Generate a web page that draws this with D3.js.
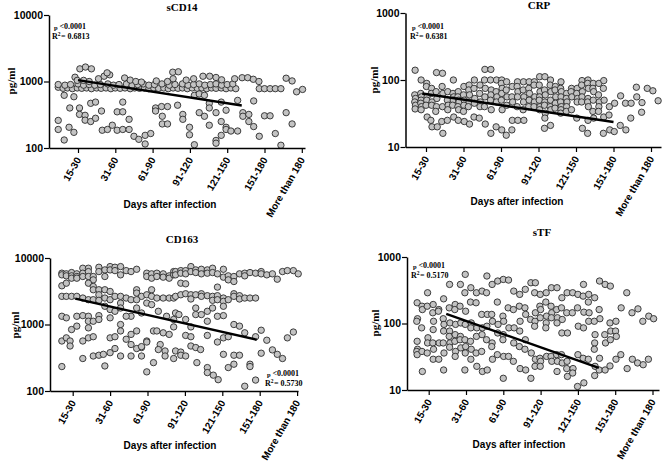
<!DOCTYPE html>
<html><head><meta charset="utf-8">
<script src="https://cdn.jsdelivr.net/npm/d3@7"></script>
<style>body{margin:0;background:#fff}svg{display:block}text{fill:#000}</style>
</head><body>
<svg id="c" width="668" height="466"></svg>
<script>
// x positions are in category units: 1 = "15-30", 2 = "31-60", ... 7 = "More than 180"
const dayCategories = ["15-30","31-60","61-90","91-120","121-150","151-180","More than 180"];
const categoryPositions = [1,2,3,4,5,6,7];

const sCD14Points = [
[0.47,820],[0.6,790],[0.72,800],[0.85,780],[0.98,800],[1.1,790],[1.23,800],[1.36,780],[1.5,800],[1.62,790],[1.75,800],[1.88,780],[2.0,800],[2.13,790],[2.26,800],[2.4,780],[2.52,800],[2.65,790],[2.78,800],[2.9,780],[3.03,800],[3.16,790],[3.3,800],[3.42,780],[3.55,800],[3.68,790],[3.8,800],[3.93,780],[4.06,800],[4.2,790],[4.32,800],[4.45,780],[4.58,800],[4.7,790],[4.84,800],[4.97,780],[5.1,800],[5.23,780],[5.86,780],[6.0,780],[6.15,780],[6.29,780],[6.44,780],
[0.47,900],[0.65,880],[0.8,900],[1.0,920],[1.15,880],[1.3,900],[1.45,880],[1.6,900],[1.8,920],[1.95,880],[2.1,900],[2.3,920],[2.45,880],[2.6,900],[2.75,920],[2.9,880],[3.05,900],[3.25,920],[3.45,880],[3.6,900],[3.8,920],[3.95,880],[4.1,900],[4.25,920],[4.4,880],[4.55,900],[4.7,920],[4.85,880],[5.0,900],[5.15,920],
[0.92,1160],[0.98,1040],[1.15,1040],[1.3,1000],[1.55,1100],[1.7,1200],[1.85,1260],[2.25,1130],[2.4,1050],[2.55,1000],[2.7,980],[3.1,1020],[3.4,1000],[3.55,1100],[3.9,1050],[4.1,1100],[4.35,1200],[4.53,1200],[4.7,1150],[4.85,1060],[5.2,1100],[5.4,1140],[5.55,1140],[5.7,1080],[5.85,1000],[6.58,1120],[6.74,1020],
[1.05,1550],[1.2,1650],[1.36,1550],[1.78,1350],[3.54,1380],[3.69,1400],
[0.63,620],[0.78,400],[0.47,260],[0.47,190],[0.63,132],[0.76,205],[0.89,172],[0.89,590],[1.34,470],[1.47,490],[1.04,400],[1.04,320],[1.19,310],[1.19,262],[1.34,250],[1.47,280],[1.63,360],
[1.65,185],[1.79,190],[1.92,220],[2.05,185],[2.2,190],[2.37,190],[2.2,490],[2.05,350],[2.2,350],[2.37,270],[2.5,150],[2.63,135],[2.8,155],[2.95,165],[2.8,115],
[3.08,400],[3.08,360],[3.24,420],[3.4,420],[3.67,440],[3.26,300],[3.26,230],[3.4,230],
[4.12,620],[4.25,650],[4.39,620],[4.52,470],[4.52,400],[4.84,490],[4.97,370],[5.28,520],[4.25,340],[4.39,300],[4.7,340],[3.81,320],[3.81,270],[3.99,205],[3.99,158],[4.52,220],[4.84,250],[4.97,205],[4.97,190],[5.1,180],[5.28,180],[4.12,112],[4.7,130],[4.7,118],[4.84,155],
[5.71,510],[5.42,340],[5.42,300],[5.58,320],[5.58,250],[5.71,210],[6.0,305],[6.15,305],[5.86,150],[6.29,165],[6.44,110],[6.58,340],[6.74,230],[6.86,700],[7.02,760]
];
const sCD14Trend = [[1.0,1050],[5.39,435]];
const sCD14Stat = ["<0.0001","0.6813"];

const crpPoints = [
[0.71,140],[0.7,60],[0.72,53],[0.7,47],[0.72,42],[0.71,37],
[0.87,100],[0.86,63],[0.88,56],[0.87,50],[0.86,45],[0.88,40],[0.87,36],
[1.02,89],[1.01,80],[1.03,56],[1.02,50],[1.0,42],[1.03,28],
[1.15,75],[1.14,63],[1.16,47],[1.15,42],[1.13,25],[1.16,20],
[1.28,129],[1.27,67],[1.29,53],[1.28,40],[1.26,34],[1.3,20],
[1.44,126],[1.43,80],[1.45,63],[1.44,40],[1.42,24],[1.45,16],
[1.58,67],[1.57,50],[1.59,42],[1.58,36],[1.57,25],
[1.73,100],[1.72,63],[1.74,56],[1.73,50],[1.71,42],[1.74,28],
[1.86,67],[1.85,56],[1.87,50],[1.88,47],[1.85,40],[1.87,36],[1.86,25],
[2.01,80],[2.0,60],[2.02,50],[2.01,42],[2.0,34],[2.02,24],
[2.15,84],[2.14,71],[2.16,60],[2.15,47],[2.13,40],[2.16,22],
[2.29,100],[2.28,75],[2.3,53],[2.29,45],[2.28,28],
[2.44,84],[2.43,63],[2.45,47],[2.44,40],[2.42,27],
[2.57,144],[2.56,100],[2.58,75],[2.57,56],[2.56,40],[2.58,22],
[2.73,144],[2.72,100],[2.74,71],[2.73,60],[2.72,50],[2.74,36],[2.73,16],
[2.88,100],[2.87,67],[2.89,56],[2.88,47],[2.87,20],
[3.02,100],[3.01,89],[3.03,75],[3.02,63],[3.01,50],[3.03,36],[3.02,18],
[3.15,94],[3.14,71],[3.16,56],[3.15,42],[3.14,15],
[3.3,80],[3.29,56],[3.31,47],[3.3,25],[3.29,18],
[3.44,94],[3.43,80],[3.45,67],[3.44,56],[3.43,40],[3.45,25],
[3.6,94],[3.59,71],[3.61,56],[3.6,47],[3.59,36],[3.61,25],
[3.75,94],[3.74,75],[3.76,63],[3.75,50],[3.74,40],
[3.89,94],[3.88,84],[3.9,56],[3.89,47],[3.88,40],
[4.03,112],[4.02,84],[4.04,67],[4.03,56],[4.02,50],[4.04,40],[4.03,36],
[4.17,112],[4.16,71],[4.18,60],[4.17,47],[4.16,42],[4.18,32],[4.17,27],[4.16,19],
[4.32,100],[4.31,84],[4.33,67],[4.32,50],[4.31,40],[4.33,36],[4.32,21],
[4.45,80],[4.44,71],[4.46,56],[4.45,45],[4.44,38],
[4.6,94],[4.59,75],[4.61,67],[4.6,56],[4.59,47],[4.61,40],[4.6,36],[4.59,32],
[4.75,63],[4.74,53],[4.76,47],[4.75,40],[4.74,34],
[4.88,75],[4.87,67],[4.89,56],[4.88,36],
[5.03,75],[5.02,63],[5.04,53],[5.03,47],[5.02,27],
[5.16,98],[5.15,84],[5.17,67],[5.16,56],[5.15,47],[5.17,19],
[5.32,100],[5.31,89],[5.33,75],[5.32,53],[5.31,47],[5.33,40],[5.32,25],[5.31,16],
[5.46,89],[5.45,75],[5.47,67],[5.46,50],[5.45,34],[5.47,27],
[5.61,89],[5.6,60],[5.62,47],[5.61,40],[5.6,34],
[5.74,98],[5.73,75],[5.75,50],[5.74,28],[5.73,16],
[5.89,40],[5.88,30],[5.9,18],
[6.03,45],[6.02,17],
[6.19,58],[6.18,21],
[6.32,45],[6.33,18],
[6.47,45],[6.46,27],
[6.61,78],[6.62,56],
[6.76,46],[6.75,33],
[6.9,75],[7.05,69],[7.19,49]
];
const crpTrend = [[0.9,63],[6.0,23.6]];
const crpStat = ["<0.0001","0.6381"];

const cd163Points = [
[0.71,5910],[0.71,5580],[0.83,5780],[0.83,5390],[0.97,6040],[0.97,5390],[0.97,4970],[1.11,5780],[1.11,5270],[1.11,4970],[1.27,7020],[1.27,5910],[1.27,5270],[1.42,7020],[1.42,6250],[1.42,5270],[1.55,5270],[1.55,4690],[1.70,7260],[1.70,6250],[1.86,6620],[1.86,5270],[2.0,7430],[2.0,6620],[2.13,7260],[2.13,6460],[2.28,7430],[2.28,5580],[2.43,6460],[2.56,6250],[2.71,6770],[2.98,5910],[2.98,5270],[3.11,5780],[3.11,4970],[3.25,5910],[3.25,5270],[3.42,5780],[3.42,5150],[3.58,5390],[3.58,4970],[3.7,6250],[3.7,5580],
[0.71,3820],[0.83,4180],[1.42,4180],[1.55,3730],[1.55,3330],[1.70,3330],[1.70,2800],[1.86,3330],[2.0,3140],[2.71,3330],[3.11,3330],
[0.71,2650],[0.83,2650],[0.97,2650],[1.11,2650],[1.27,2500],[1.42,2360],[1.55,2360],[1.70,2310],[1.86,2500],[2.0,2360],[2.13,2650],[2.28,2650],[2.43,2500],[2.56,2360],[2.71,2970],[2.84,2650],[2.98,2800],[3.11,2650],[3.25,2500],[3.42,2500],[3.58,2500],[3.7,2500],
[1.86,1880],[2.0,1680],[2.13,1580],[2.28,2100],[2.28,1770],[2.56,1330],[2.71,2360],[2.71,1770],[2.84,1490],[2.98,2100],[3.11,1990],[3.29,1580],[3.51,1330],[3.7,1190],
[0.71,1330],[0.83,1260],[1.11,1330],[1.27,1360],[1.42,1330],[1.42,1120],[1.55,1120],[1.70,1360],[1.70,1190],[2.0,1260],[2.28,1000],[2.43,1330],
[0.97,840],[1.11,945],[1.42,890],[0.71,565],[0.83,630],[0.93,565],[0.93,475],[1.27,565],[1.42,630],[1.55,655],[2.0,630],[2.13,655],[2.28,800],[2.43,600],[2.56,710],[2.56,500],[2.71,800],[2.84,450],[2.98,565],[3.16,800],[3.25,800],[3.34,500],[3.42,750],[3.58,710],[3.7,920],
[1.27,308],[1.55,336],[1.70,345],[1.82,356],[2.0,377],[2.13,435],[2.28,336],[2.56,336],[2.71,435],[2.84,465],[2.84,336],[2.98,545],[3.16,267],[3.29,420],[3.47,400],[3.47,336],[3.7,308],
[0.71,233],[1.86,238],[2.98,194],
[3.75,6250],[3.75,5580],[3.89,6460],[3.89,5910],[4.02,6460],[4.02,5780],[4.16,7430],[4.16,6250],[4.29,6620],[4.29,6040],[4.44,6770],[4.44,5780],[4.6,6620],[4.6,5910],[4.74,7020],[4.74,6040],[4.87,5780],[5.03,6770],[5.03,5150],[5.16,5390],[5.16,4690],[5.31,5270],[5.31,4430],[5.46,5780],[5.6,5910],[5.6,5390],[5.74,6040],[5.89,5910],[6.04,6250],[6.04,5780],[6.19,5580],[6.34,5780],[6.47,4800],[6.61,6250],[6.74,6460],[6.9,6460],[7.03,5780],
[3.75,2650],[3.89,2800],[4.02,2900],[4.16,2800],[4.16,2420],[4.29,2800],[4.44,2900],[4.44,2650],[4.6,2710],[4.74,2650],[4.74,2310],[4.87,2710],[4.87,2360],[5.03,2500],[5.03,2230],[5.16,2360],[5.31,2900],[5.31,2650],[5.46,2710],[5.46,2420],[5.6,2500],[5.74,2500],[5.89,2500],
[3.89,4180],[4.02,4090],[4.87,3650],
[3.75,1490],[3.84,1410],[4.02,1190],[4.29,1770],[4.29,1410],[4.44,1410],[4.6,1580],[4.6,1120],[4.74,1770],[4.87,1330],[5.03,1880],[5.03,1360],
[4.16,920],[4.02,685],[4.16,655],[4.6,685],[4.87,545],[5.03,630],[5.16,655],[5.31,1000],[5.46,945],[5.6,750],[5.89,655],[6.04,820],[6.19,580],[6.74,630],[6.9,770],
[3.75,400],[3.89,385],[3.89,345],[4.02,336],[4.16,475],[4.29,450],[4.42,420],[4.32,267],[4.6,225],[5.03,356],[5.16,225],[5.31,345],[5.31,253],[5.46,345],[5.74,253],[5.74,233],[6.04,370],[6.34,415],[6.47,356],[6.61,308],
[4.6,189],[4.76,173],[4.89,148],[5.6,118],[5.89,146]
];
const cd163Trend = [[1.07,2450],[5.92,590]];
const cd163Stat = ["<0.0001","0.5730"];

const stfPoints = [
[0.69,205],[0.7,118],[0.68,108],[0.69,54],[0.7,41],[0.68,38],[0.69,34],
[0.82,182],[0.83,162],[0.81,86],[0.82,38],[0.83,19],
[0.97,290],[0.96,182],[0.98,61],[0.97,51],[0.96,36],
[1.12,193],[1.11,145],[1.13,108],[1.12,81],[1.11,51],[1.13,41],[1.12,29],
[1.27,162],[1.26,153],[1.28,51],[1.27,29],
[1.4,235],[1.39,118],[1.41,97],[1.4,77],[1.39,51],[1.41,36],[1.4,20],
[1.56,387],[1.55,172],[1.57,102],[1.56,77],[1.55,64],[1.57,51],[1.56,44],
[1.71,193],[1.7,162],[1.72,97],[1.71,68],[1.7,54],[1.72,38],[1.71,32],
[1.85,387],[1.84,182],[1.86,102],[1.85,64],[1.84,57],[1.86,43],
[1.98,548],[1.97,290],[1.99,153],[1.98,97],[1.97,57],[1.99,45],[1.98,36],[1.97,20],
[2.13,345],[2.12,210],[2.14,102],[2.13,86],[2.12,54],[2.14,41],[2.13,29],
[2.28,290],[2.27,205],[2.29,86],[2.28,64],[2.27,36],[2.29,22.7],
[2.43,307],[2.42,137],[2.44,86],[2.43,68],[2.42,38],[2.44,19],
[2.56,518],[2.55,290],[2.57,137],[2.56,91],[2.55,57],[2.57,20],
[2.7,387],[2.69,137],[2.71,108],[2.7,51],[2.69,45],[2.71,29],
[2.85,435],[2.84,210],[2.86,97],[2.85,72],[2.84,34],
[3.0,460],[2.99,129],[3.01,108],[3.0,68],[2.99,57],[3.01,32],[3.0,15],
[3.14,450],[3.13,172],[3.15,86],[3.14,32],
[3.28,307],[3.27,162],[3.29,86],[3.28,51],[3.27,27],
[3.44,274],[3.43,182],[3.45,108],[3.44,77],[3.43,45],[3.45,21],
[3.59,326],[3.58,172],[3.6,137],[3.59,57],[3.58,41],[3.6,20],
[3.74,410],[3.73,115],[3.75,36],[3.74,15],
[3.86,410],[3.84,290],[3.86,145],[3.85,108],[3.84,91],[3.86,29],[3.85,22.7],
[3.99,274],[3.98,182],[4.0,162],[3.99,122],[3.98,30],[4.0,27],[3.99,22.7],
[4.15,290],[4.14,210],[4.16,129],[4.15,102],[4.14,86],[4.16,32],
[4.29,345],[4.28,182],[4.3,145],[4.29,122],[4.28,32],[4.3,27],
[4.44,345],[4.43,162],[4.45,122],[4.44,102],[4.43,34],[4.45,27],[4.44,19],
[4.57,244],[4.56,172],[4.58,115],[4.57,72],[4.56,34],[4.58,25.5],
[4.71,290],[4.7,145],[4.72,72],[4.71,27],[4.7,21],[4.72,16],
[4.86,290],[4.85,145],[4.87,21],[4.86,18],
[5.0,274],[4.99,172],[5.01,91],[5.0,34],[4.99,11.3],
[5.15,387],[5.14,258],[5.16,148],[5.15,86],[5.14,30],[5.16,12.8],
[5.29,274],[5.28,210],[5.3,145],[5.29,108],[5.28,29],
[5.45,244],[5.44,108],[5.46,68],[5.45,51],[5.44,41],[5.46,22.7],[5.45,16.5],
[5.58,435],[5.57,162],[5.59,118],[5.58,30],[5.57,20],
[5.73,387],[5.72,68],[5.74,51],[5.73,20],
[5.87,365],[5.86,102],[5.88,77],[5.87,57],[5.86,23],
[6.02,108],[6.01,77],[6.03,64],[6.02,29],
[6.16,172],[6.15,34],
[6.31,290],[6.32,21],
[6.45,145],[6.46,29],
[6.61,166],[6.6,25.5],
[6.74,108],[6.75,24],
[6.9,129],[6.89,29],
[7.03,118]
];
const stfTrend = [[1.47,139],[5.56,21.5]];
const stfStat = ["<0.0001","0.5170"];

// ---------- layout (pixels) ----------
const panels = [
 {title:"sCD14", pts:sCD14Points, trend:sCD14Trend, stat:sCD14Stat, yDomain:[100,10000], yTicks:[100,1000,10000],
  x0:49, x1:305, tick1:78, step:37.3, yTop:15, yBot:148, titleX:182, titleY:11, ylabX:15, ylabY:81, xtX:170, xtY:208, statX:52, statY:29},
 {title:"CRP", pts:crpPoints, trend:crpTrend, stat:crpStat, yDomain:[10,1000], yTicks:[10,100,1000],
  x0:405.5, x1:661, tick1:426, step:37.5, yTop:13, yBot:147, titleX:539, titleY:9, ylabX:378, ylabY:80, xtX:517, xtY:205, statX:410, statY:29},
 {title:"CD163", pts:cd163Points, trend:cd163Trend, stat:cd163Stat, yDomain:[100,10000], yTicks:[100,1000,10000],
  x0:50, x1:298, tick1:72.7, step:37.4, yTop:258, yBot:391, titleX:182, titleY:243, ylabX:19, ylabY:325, xtX:170, xtY:449, statX:265, statY:376},
 {title:"sTF", pts:stfPoints, trend:stfTrend, stat:stfStat, yDomain:[10,1000], yTicks:[10,100,1000],
  x0:407, x1:659, tick1:428.7, step:37.3, yTop:257, yBot:390, titleX:542, titleY:236, ylabX:379, ylabY:323, xtX:519, xtY:448, statX:411, statY:268}
];

const svg = d3.select("#c");
const SANS = "'Liberation Sans', Arial, Helvetica, sans-serif";
const SERIF = "'Liberation Serif', 'Times New Roman', serif";

function label(g, x, y, txt, size, anchor) {
  return g.append("text").attr("x", x).attr("y", y).attr("fill", "#000")
    .attr("text-anchor", anchor || "start")
    .style("font-family", SERIF).style("font-weight", "bold").style("font-size", size + "px").text(txt);
}

panels.forEach(p => {
  const g = svg.append("g");
  const x = d3.scaleLinear().domain([1,7]).range([p.tick1, p.tick1 + 6*p.step]);
  x.domain([x.invert(p.x0), x.invert(p.x1)]).range([p.x0, p.x1]);
  const y = d3.scaleLog().domain(p.yDomain).range([p.yBot, p.yTop]);

  g.append("g").selectAll("circle").data(p.pts).join("circle")
    .attr("cx", d => x(d[0])).attr("cy", d => y(d[1])).attr("r", 3.2)
    .attr("fill", "#c3c3c3").attr("stroke", "#2b2b2b").attr("stroke-width", 0.9);

  g.append("path").datum(p.trend)
    .attr("d", d3.line().x(d => x(d[0])).y(d => y(d[1])))
    .attr("stroke", "#000").attr("stroke-width", 2.4).attr("fill", "none");

  const xa = g.append("g").attr("transform", `translate(0,${p.yBot})`)
    .call(d3.axisBottom(x).tickValues(categoryPositions).tickFormat((d,i) => dayCategories[i]).tickSize(5).tickSizeOuter(0));
  xa.select(".domain").attr("stroke-width", 1.5);
  xa.selectAll(".tick line").attr("stroke-width", 1.2);
  xa.selectAll("text").attr("transform", "rotate(-60)").attr("x", -8.7).attr("y", 5).attr("dy", "0.35em")
    .style("text-anchor", "end").style("font-family", SANS).style("font-weight", "bold").style("font-size", "10px").attr("fill", "#000");

  const ya = g.append("g").attr("transform", `translate(${p.x0},0)`)
    .call(d3.axisLeft(y).tickValues(p.yTicks).tickFormat(d3.format("d")).tickSize(5).tickSizeOuter(0));
  ya.select(".domain").attr("stroke-width", 1.5);
  ya.selectAll(".tick line").attr("stroke-width", 1.2);
  ya.selectAll("text").attr("x", -6).style("font-family", SANS).style("font-weight", "bold").style("font-size", "10.5px").attr("fill", "#000");

  label(g, p.titleX, p.titleY, p.title, 11, "middle");
  g.append("text").attr("transform", `translate(${p.ylabX},${p.ylabY}) rotate(-90)`).attr("text-anchor", "middle").attr("fill", "#000")
    .style("font-family", SERIF).style("font-weight", "bold").style("font-size", "11px").text("pg/ml");
  g.append("text").attr("x", p.xtX).attr("y", p.xtY).attr("text-anchor", "middle").attr("fill", "#000")
    .style("font-family", SANS).style("font-weight", "bold").style("font-size", "10px").text("Days after infection");

  // statistics annotation (grayscale-antialiased group)
  const sg = g.append("g").attr("opacity", 0.999);
  label(sg, p.statX + 2, p.statY + 0.5, "p", 6.5);
  label(sg, p.statX + 7.5, p.statY, p.stat[0], 8);
  label(sg, p.statX, p.statY + 10, "R", 8);
  label(sg, p.statX + 5.8, p.statY + 6.5, "2", 5.5);
  label(sg, p.statX + 9, p.statY + 10, "= " + p.stat[1], 8);
});
</script>
</body></html>
